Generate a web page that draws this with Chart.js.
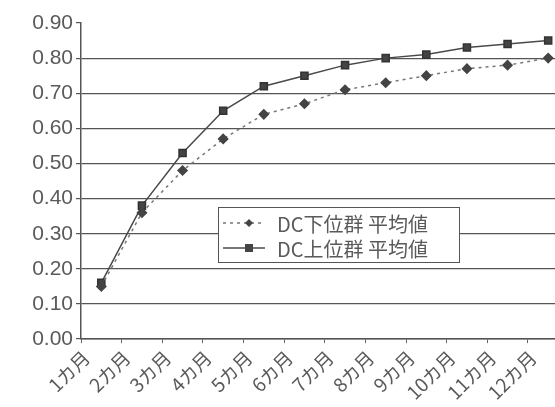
<!DOCTYPE html>
<html>
<head>
<meta charset="utf-8">
<script src="https://cdn.jsdelivr.net/npm/chart.js@4"></script>
<style>
  html, body { margin: 0; padding: 0; background: #fff; overflow: hidden; }
  #wrap { width: 555px; height: 407px; overflow: hidden; }
</style>
</head>
<body>
<div id="wrap"><canvas id="chart" width="575" height="407"></canvas></div>
<script>
// Data
const months = ["1カ月", "2カ月", "3カ月", "4カ月", "5カ月", "6カ月", "7カ月", "8カ月", "9カ月", "10カ月", "11カ月", "12カ月"];
const lowerGroup = [0.15, 0.36, 0.48, 0.57, 0.64, 0.67, 0.71, 0.73, 0.75, 0.77, 0.78, 0.80];
const upperGroup = [0.16, 0.38, 0.53, 0.65, 0.72, 0.75, 0.78, 0.80, 0.81, 0.83, 0.84, 0.85];
const seriesNames = ["DC下位群 平均値", "DC上位群 平均値"];
const yTicks = [0, 0.1, 0.2, 0.3, 0.4, 0.5, 0.6, 0.7, 0.8, 0.9];

const textColor = "#5a5a5a";
const lineColor = "#4a4a4a";
const jpFont = "'Noto Sans CJK JP', 'Liberation Sans', sans-serif";
const numFont = "'Liberation Sans', Arial, sans-serif";

// Legend box drawn inside the plot, like the original
const boxLegend = {
    id: "boxLegend",
    afterDraw(chart) {
        const ctx = chart.ctx;
        const area = chart.chartArea;
        const x = area.left + 137, y = area.top + 184, w = 241, h = 55;
        ctx.save();
        ctx.fillStyle = "#fff";
        ctx.fillRect(x, y, w, h);
        ctx.strokeStyle = "#555";
        ctx.lineWidth = 1;
        ctx.strokeRect(x + 0.5, y + 0.5, w, h);
        chart.data.datasets.forEach((ds, i) => {
            const rowY = y + 16 + i * 25;
            ctx.strokeStyle = ds.borderColor;
            ctx.lineWidth = ds.borderWidth;
            ctx.setLineDash(ds.borderDash || []);
            ctx.beginPath();
            ctx.moveTo(x + 5, rowY);
            ctx.lineTo(x + 47, rowY);
            ctx.stroke();
            ctx.setLineDash([]);
            ctx.fillStyle = ds.pointBackgroundColor;
            const mx = x + 31;
            ctx.beginPath();
            if (ds.pointStyle === "rectRot") {
                ctx.moveTo(mx, rowY - 4); ctx.lineTo(mx + 4, rowY);
                ctx.lineTo(mx, rowY + 4); ctx.lineTo(mx - 4, rowY);
            } else {
                ctx.rect(mx - 4, rowY - 4, 8, 8);
            }
            ctx.fill();
            ctx.fillStyle = textColor;
            ctx.font = "20px " + jpFont;
            ctx.textBaseline = "middle";
            ctx.fillText(ds.label, x + 59, rowY + 1);
        });
        ctx.restore();
    }
};

new Chart(document.getElementById("chart"), {
    type: "line",
    data: {
        labels: months,
        datasets: [
            {
                label: seriesNames[0],
                data: lowerGroup,
                borderColor: "#777",
                borderWidth: 1.5,
                borderDash: [3, 4],
                pointStyle: "rectRot",
                pointRadius: 4.5,
                pointBackgroundColor: "#444",
                pointBorderColor: "#444",
                tension: 0
            },
            {
                label: seriesNames[1],
                data: upperGroup,
                borderColor: lineColor,
                borderWidth: 1.5,
                pointStyle: "rect",
                pointRadius: 5,
                pointBackgroundColor: "#444",
                pointBorderColor: "#333",
                tension: 0
            }
        ]
    },
    options: {
        responsive: false,
        animation: false,
        layout: { padding: { top: 23, left: 0, right: 0, bottom: 0 } },
        plugins: { legend: { display: false }, tooltip: { enabled: false } },
        scales: {
            x: {
                offset: true,
                grid: { offset: true, drawOnChartArea: false, drawTicks: true, tickLength: 4, color: "#666" },
                border: { color: "#555", width: 1.5 },
                ticks: {
                    color: textColor,
                    font: { family: jpFont, size: 19 },
                    minRotation: 45,
                    maxRotation: 45,
                    padding: 3,
                    labelOffset: -15
                }
            },
            y: {
                min: 0,
                max: 0.9,
                afterBuildTicks(scale) {
                    scale.ticks = yTicks.map(v => ({ value: v }));
                },
                afterFit(scale) { scale.width = 81; },
                grid: {
                    color: ctx => (ctx.tick && ctx.tick.value >= 0.85 ? "rgba(0,0,0,0)" : "#555"),
                    lineWidth: 1.2,
                    tickLength: 5,
                    tickColor: "#555"
                },
                border: { color: "#555", width: 1.5 },
                ticks: {
                    color: textColor,
                    font: { family: numFont, size: 21 },
                    padding: 3,
                    callback: v => Number(v).toFixed(2)
                }
            }
        }
    },
    plugins: [boxLegend]
});
</script>
</body>
</html>
